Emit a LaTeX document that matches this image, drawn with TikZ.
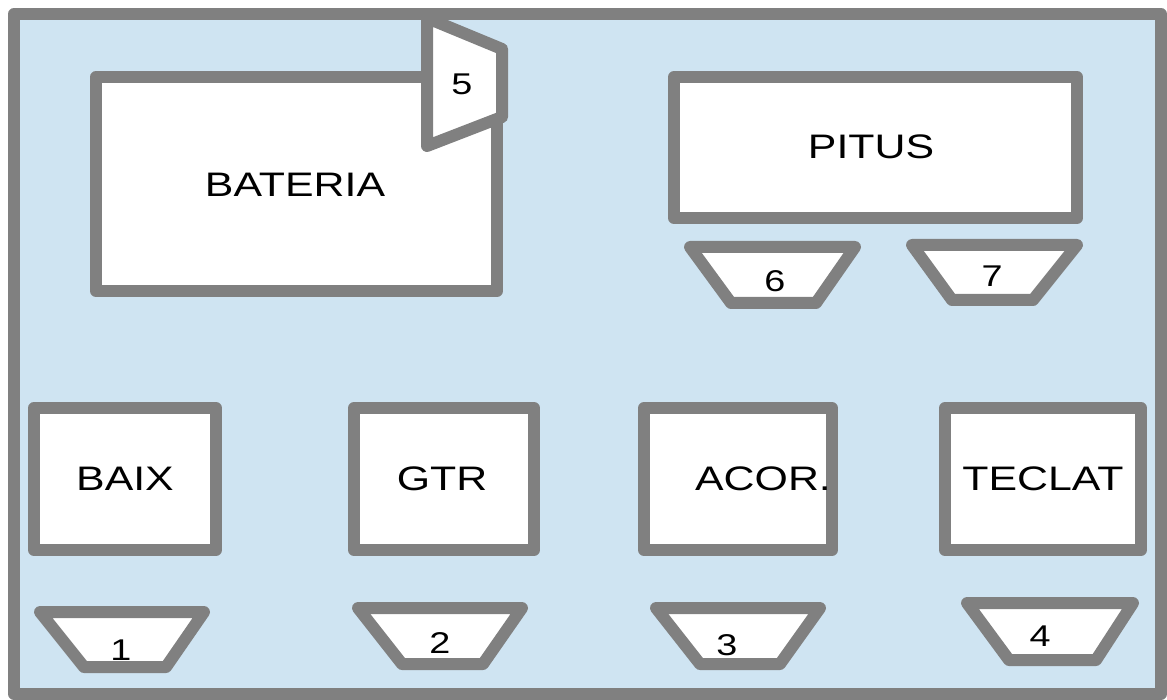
\documentclass[tikz,border=0pt]{standalone}
\usepackage{fontspec}
\setmainfont{Liberation Sans}
\newfontfamily\stagefont[FakeStretch=1.26]{Liberation Sans}
\definecolor{stageblue}{RGB}{207,228,242}
\definecolor{rimgray}{RGB}{128,128,128}
\tikzset{
  box/.style={draw=rimgray, fill=white, line width=12pt, line join=round},
  wedge/.style={draw=rimgray, fill=white, line width=12pt, line join=round},
  insttag/.style={font=\stagefont\fontsize{34}{40}\selectfont},
  montag/.style={font=\stagefont\fontsize{30}{34}\selectfont},
}
\begin{document}
\begin{tikzpicture}[x=1pt,y=-1pt]
    \useasboundingbox (0,0) rectangle (1167,700);
    % stage
    \draw [box, fill=stageblue] (14,14) rectangle (1161,694);
    % back line
    \draw [box] (96,77) rectangle (497,291);
    \node [insttag] (bateria) at (295,185) {BATERIA};
    \draw [wedge] (427,18) -- (502,49) -- (502,117) -- (427,146) -- cycle;
    \node [montag] (m5) at (462,84) {5};
    \draw [box] (674,77) rectangle (1077,218);
    \node [insttag] (pitus) at (871,147) {PITUS};
    \draw [wedge] (690,247) -- (855,247) -- (816,303) -- (731,303) -- cycle;
    \node [montag] (m6) at (775,281) {6};
    \draw [wedge] (912,245) -- (1077,245) -- (1033,300) -- (952,300) -- cycle;
    \node [montag] (m7) at (992,276) {7};
    % front line
    \draw [box] (34,408) rectangle (216,550);
    \node [insttag] (baix) at (125,479) {BAIX};
    \draw [box] (354,408) rectangle (534,550);
    \node [insttag] (gtr) at (442,479) {GTR};
    \draw [box] (644,408) rectangle (832,550);
    \node [insttag] (acor) at (763,479) {ACOR.};
    \draw [box] (945,408) rectangle (1141,550);
    \node [insttag] (teclat) at (1043,479) {TECLAT};
    % floor monitors
    \draw [wedge] (40,612) -- (204,612) -- (166,667) -- (84,667) -- cycle;
    \node [montag] (m1) at (121,650) {1};
    \draw [wedge] (358,608) -- (522,608) -- (483,664) -- (402,664) -- cycle;
    \node [montag] (m2) at (440,643) {2};
    \draw [wedge] (656,608) -- (820,608) -- (780,664) -- (700,664) -- cycle;
    \node [montag] (m3) at (727,645) {3};
    \draw [wedge] (967,603) -- (1133,603) -- (1096,660) -- (1009,660) -- cycle;
    \node [montag] (m4) at (1040,636) {4};
\end{tikzpicture}
\end{document}
